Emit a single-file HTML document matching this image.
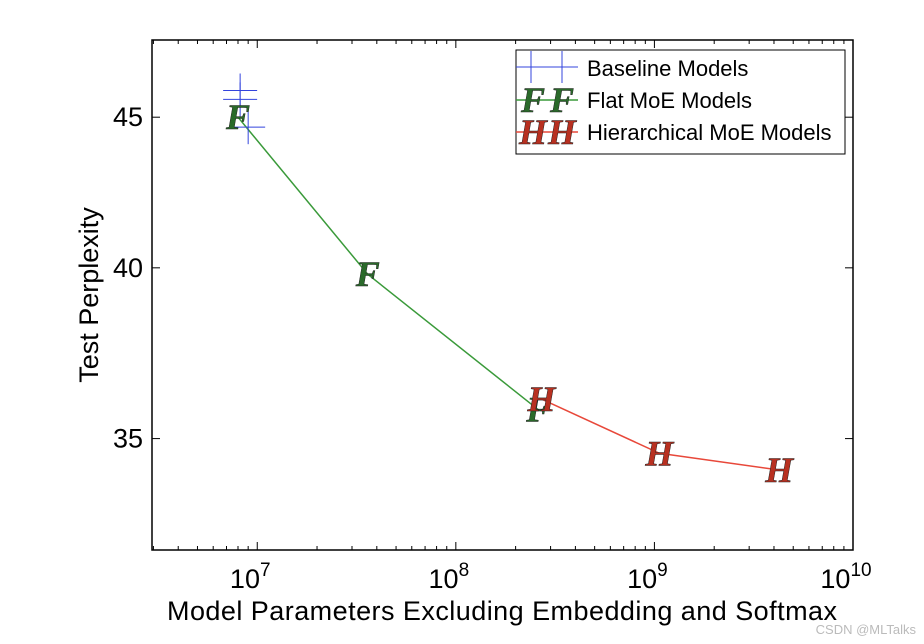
<!DOCTYPE html>
<html><head><meta charset="utf-8"><style>
html,body{margin:0;padding:0;background:#fff;width:924px;height:644px;overflow:hidden}
</style></head><body>
<svg id="chart" width="924" height="644" xmlns="http://www.w3.org/2000/svg" font-family="Liberation Sans, Arial, sans-serif"></svg>
<script>
const baselineX=[8.2e6,8.2e6,9.0e6];
const baselineY=[45.95,45.63,44.65];
const flatX=[8.0e6,3.6e7,2.6e8];
const flatY=[45.0,39.8,35.8];
const hierX=[2.7e8,1.06e9,4.25e9];
const hierY=[36.1,34.6,34.15];
const yTicks=[35,40,45];
const xDecades=[7,8,9,10];

const L=152,R=853,T=40,B=550;
const xMinLog=6.47,xMaxLog=10.0;
const yMinLog=Math.log10(32.08),yMaxLog=Math.log10(47.8);
const sx=v=>L+(Math.log10(v)-xMinLog)/(xMaxLog-xMinLog)*(R-L);
const sy=v=>B-(Math.log10(v)-yMinLog)/(yMaxLog-yMinLog)*(B-T);
const svg=document.getElementById('chart');
const NS='http://www.w3.org/2000/svg';
function mk(tag,attrs,parent){const e=document.createElementNS(NS,tag);for(const k in attrs)e.setAttribute(k,attrs[k]);(parent||svg).appendChild(e);return e;}
const SERIF='font-family:"Liberation Serif",serif;font-style:italic;font-weight:bold';

const frame=mk('rect',{x:L,y:T,width:R-L,height:B-T,fill:'none',stroke:'#000','stroke-width':1.5});



for(let d=6;d<=10;d++){
  for(let m=1;m<10;m++){
    const v=m*Math.pow(10,d);const lg=Math.log10(v);
    if(lg<xMinLog||lg>xMaxLog+1e-9)continue;
    const x=sx(v);const len=m===1?8:4;
    const t1=mk('line',{x1:x,x2:x,y1:B,y2:B-len,stroke:'#000','stroke-width':1});
    
    
    const t2=mk('line',{x1:x,x2:x,y1:T,y2:T+len,stroke:'#000','stroke-width':1});
    
    
  }
}
xDecades.forEach(d=>{
  const x=sx(Math.pow(10,d));
  const t=mk('text',{x:x-7,y:588,'font-size':27,'text-anchor':'middle',fill:'#000'});
  
  
  t.textContent='10';
  const s=mk('tspan',{dy:-12,'font-size':19},t);s.textContent=String(d);
});
yTicks.forEach(v=>{
  const y=sy(v);
  const a=mk('line',{x1:L,x2:L+8,y1:y,y2:y,stroke:'#000'});
  
  
  const b=mk('line',{x1:R,x2:R-8,y1:y,y2:y,stroke:'#000'});
  
  
  const t=mk('text',{x:143,y:y+9,'font-size':27,'text-anchor':'end',fill:'#000'});
  
  
  t.textContent=String(v);
});
const xl=mk('text',{x:502,y:620,'font-size':27,'text-anchor':'middle',fill:'#000',textLength:670});


xl.textContent='Model Parameters Excluding Embedding and Softmax';
const yl=mk('text',{x:0,y:0,'font-size':27,'text-anchor':'middle',fill:'#000',transform:'translate(98,295) rotate(-90)'});


yl.textContent='Test Perplexity';

function series(xs,ys,color,name){
  const pl=mk('polyline',{points:xs.map((x,i)=>sx(x)+','+sy(ys[i])).join(' '),fill:'none',stroke:color,'stroke-width':1.5});
  
  
}
function letter(x,y,ch,fill,name,parent){
  const t=mk('text',{x:x,y:y+12,'font-size':36,'text-anchor':'middle',fill:fill,stroke:'#222','stroke-width':0.5,style:SERIF},parent);
  
  
  t.textContent=ch;
}
function plus(x,y,name){
  const g=mk('g',{stroke:'#3344dd','stroke-width':1});
  
  
  mk('line',{x1:x-17,x2:x+17,y1:y,y2:y},g);
  mk('line',{x1:x,x2:x,y1:y-17,y2:y+17},g);
}
series(flatX,flatY,'#3a9a3a','flat-moe');
series(hierX,hierY,'#e8483a','hierarchical-moe');
baselineX.forEach((x,i)=>plus(sx(x),sy(baselineY[i]),'baseline-point'));
flatX.forEach((x,i)=>letter(sx(x),sy(flatY[i]),'F','#2a6a2a','flat-moe-point'));
hierX.forEach((x,i)=>letter(sx(x),sy(hierY[i]),'H','#b83020','hierarchical-moe-point'));

const lg=mk('g',{});


mk('rect',{x:516,y:50,width:329,height:104,fill:'#fff',stroke:'#000','stroke-width':1},lg);
const entries=[['Baseline Models','base',68],['Flat MoE Models','flat',100],['Hierarchical MoE Models','hier',132]];
entries.forEach(e=>{
  const y=e[2];
  if(e[1]==='base'){
    const g=mk('g',{stroke:'#3344dd','stroke-width':1},lg);
    mk('line',{x1:516,x2:578,y1:y-1,y2:y-1},g);
    mk('line',{x1:531,x2:531,y1:y-17,y2:y+15},g);
    mk('line',{x1:562,x2:562,y1:y-17,y2:y+15},g);
  } else {
    const col=e[1]==='flat'?'#3a9a3a':'#e8483a';
    const fill=e[1]==='flat'?'#2a6a2a':'#b83020';
    mk('line',{x1:516,x2:578,y1:y,y2:y,stroke:col,'stroke-width':1.5},lg);
    [533,562].forEach(x=>letter(x,y,e[1]==='flat'?'F':'H',fill,'legend-marker',lg));
  }
  const t=mk('text',{x:587,y:y+8,'font-size':22,fill:'#000'},lg);
  
  
  t.textContent=e[0];
});
const wm=mk('text',{x:916,y:634,'font-size':13,'text-anchor':'end',fill:'#bbb'});


wm.textContent='CSDN @MLTalks';
</script>
</body></html>
